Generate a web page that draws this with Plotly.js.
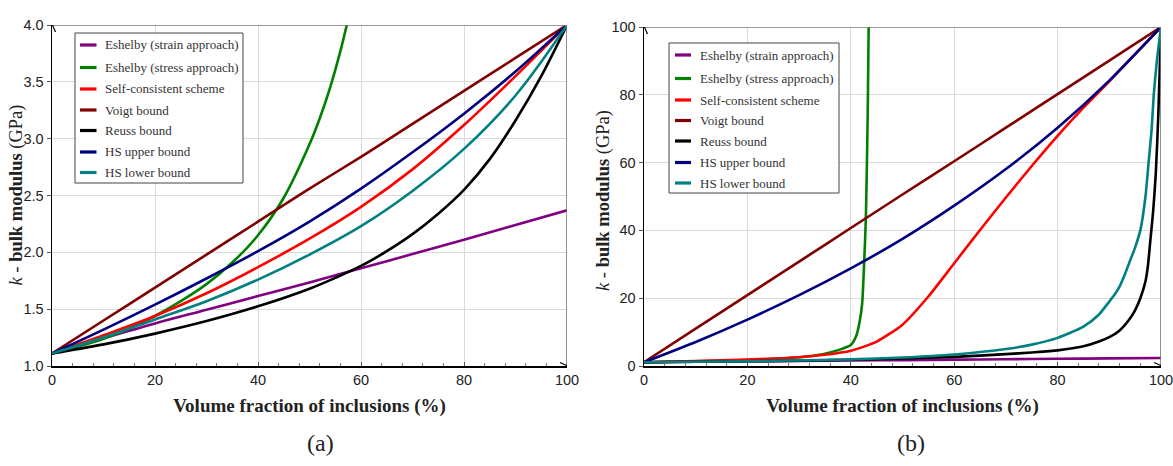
<!DOCTYPE html>
<html>
<head>
<meta charset="utf-8">
<script src="https://cdn.plot.ly/plotly-3.0.1.min.js"></script>
<style>html,body{margin:0;padding:0;background:#fff;}#chart{width:1173px;height:466px;}</style>
</head>
<body>
<div id="chart"></div>
<script>
// ---------- data ----------
const seriesNames = ["Eshelby (strain approach)", "Eshelby (stress approach)", "Self-consistent scheme",
  "Voigt bound", "Reuss bound", "HS upper bound", "HS lower bound"];
const seriesColors = ["#800080", "#008000", "#ff0000", "#800000", "#000000", "#000080", "#008080"];

// panel (a)
const xA = [0, 10, 20, 30, 40, 50, 60, 70, 80, 90, 100];
const strainA = [1.11, 1.245, 1.375, 1.495, 1.615, 1.735, 1.86, 1.985, 2.11, 2.24, 2.37];
const stressAx = [0, 5, 10, 15, 20, 25, 30, 35, 40, 45, 50, 52, 54, 56, 58];
const stressA = [1.11, 1.17, 1.24, 1.33, 1.44, 1.57, 1.72, 1.91, 2.15, 2.48, 2.95, 3.18, 3.45, 3.77, 4.15];
const scA = [1.11, 1.27, 1.44, 1.64, 1.87, 2.12, 2.40, 2.73, 3.12, 3.55, 4.00];
const voigtA = [1.11, 1.40, 1.69, 1.98, 2.27, 2.56, 2.84, 3.13, 3.42, 3.71, 4.00];
const reussAx = [0, 10, 20, 30, 40, 50, 55, 60, 65, 70, 75, 80, 85, 90, 95, 100];
const reussA = [1.11, 1.19, 1.285, 1.395, 1.525, 1.68, 1.775, 1.88, 2.01, 2.16, 2.34, 2.55, 2.82, 3.16, 3.55, 4.00];
const hsUpA = [1.11, 1.32, 1.54, 1.77, 2.01, 2.27, 2.56, 2.88, 3.22, 3.59, 4.00];
const hsLowA = [1.11, 1.25, 1.41, 1.57, 1.76, 1.98, 2.23, 2.54, 2.91, 3.38, 4.00];

// panel (b)
const xB = [0, 10, 20, 30, 40, 50, 60, 70, 80, 90, 100];
const strainB = [1.11, 1.25, 1.38, 1.50, 1.62, 1.74, 1.87, 2.00, 2.12, 2.25, 2.37];
const stressBx = [0, 10, 20, 25, 30, 33, 36, 38, 40, 41, 41.7, 42.2, 42.6, 42.9, 43.1, 43.3, 43.45, 43.6];
const stressB = [1.11, 1.35, 1.75, 2.1, 2.6, 3.1, 4.0, 4.9, 6.2, 8.7, 13, 18.5, 31, 43, 58, 78, 100, 120];
const scBx = [0, 10, 20, 25, 30, 35, 40, 45, 50, 55, 60, 65, 70, 75, 80, 85, 90, 95, 100];
const scB = [1.11, 1.45, 1.9, 2.2, 2.6, 3.3, 4.5, 7.2, 12.2, 20.5, 30.3, 40.1, 49.7, 59.0, 67.9, 76.2, 84.0, 92.0, 100];
const voigtB = [1.11, 11.0, 20.9, 30.8, 40.7, 50.6, 60.4, 70.3, 80.2, 90.1, 100];
const reussBx = [0, 20, 40, 50, 60, 70, 75, 80, 85, 88, 90, 92, 94, 95, 96, 97, 97.5, 98, 98.5, 99, 99.5, 100];
const reussB = [1.11, 1.38, 1.83, 2.2, 2.7, 3.5, 4.0, 4.6, 5.8, 7.2, 8.5, 10.5, 14, 16.5, 20, 25, 30, 38, 46, 57, 75, 100];
const hsUpB = [1.11, 7.1, 13.7, 20.9, 28.8, 37.5, 47.3, 58.1, 70.3, 84.2, 100];
const hsLowBx = [0, 10, 20, 30, 40, 50, 60, 70, 75, 80, 85, 88, 90, 91, 92, 93, 94, 95, 96, 97, 97.6, 98.2, 98.6, 99.2, 100];
const hsLowB = [1.11, 1.25, 1.42, 1.65, 1.95, 2.5, 3.4, 5.0, 6.3, 8.3, 11.6, 15.2, 19, 21, 23.5, 27, 31, 35, 40, 50, 60, 70, 80, 90, 100];

const xTicks = [0, 20, 40, 60, 80, 100];
const yTicksA = [1.0, 1.5, 2.0, 2.5, 3.0, 3.5, 4.0];
const yTicksB = [0, 20, 40, 60, 80, 100];
const xTitle = "Volume fraction of inclusions (%)";
const yTitle = "<i>k</i> - <b>bulk modulus</b> (GPa)";
const panelLabels = ["(a)", "(b)"];

// ---------- build ----------
const W = 1173, H = 466;
const fx = p => p / W, fy = p => 1 - p / H;
const SERIF = "Liberation Serif, Times New Roman, serif";
const NARROW = "Liberation Sans Narrow, Arial Narrow, Liberation Sans, Arial, sans-serif";

const dataA = [[xA, strainA], [stressAx, stressA], [xA, scA], [xA, voigtA], [reussAx, reussA], [xA, hsUpA], [xA, hsLowA]];
const dataB = [[xB, strainB], [stressBx, stressB], [scBx, scB], [xB, voigtB], [reussBx, reussB], [xB, hsUpB], [hsLowBx, hsLowB]];

const traces = [];
dataA.forEach((d, i) => traces.push({x: d[0], y: d[1], name: seriesNames[i], type: 'scatter', mode: 'lines',
  line: {color: seriesColors[i], width: 2.6, shape: 'spline', smoothing: 1}, xaxis: 'x', yaxis: 'y', showlegend: false}));
dataB.forEach((d, i) => traces.push({x: d[0], y: d[1], name: seriesNames[i], type: 'scatter', mode: 'lines',
  line: {color: seriesColors[i], width: 2.6, shape: 'spline', smoothing: 0.6}, xaxis: 'x2', yaxis: 'y2', showlegend: false}));

const tickFont = {family: NARROW, size: 14.5, color: '#222'};

function xAxis(domain, anchor) {
  return {domain: domain, anchor: anchor, range: [0, 100], tickvals: xTicks, showgrid: true, gridcolor: '#dadada', gridwidth: 1,
    zeroline: false, showline: true, linecolor: '#000', linewidth: 1.5, ticks: 'inside', ticklen: 4, tickcolor: '#555',
    minor: {dtick: 4, ticks: 'inside', ticklen: 3, tickcolor: '#777', showgrid: false},
    tickfont: tickFont, fixedrange: true, ticklabeloverflow: 'allow',
    title: {text: "<b>" + xTitle + "</b>", font: {family: SERIF, size: 19, color: '#222'}, standoff: 12}};
}
function yAxis(domain, anchor, range, ticks, fmt) {
  return {domain: domain, anchor: anchor, range: range, tickvals: ticks, tickformat: fmt, showgrid: true, gridcolor: '#dadada',
    zeroline: false, showline: true, linecolor: '#000', linewidth: 1.5, ticks: 'outside', ticklen: 4, tickcolor: '#555',
    tickfont: tickFont, fixedrange: true, ticklabeloverflow: 'allow'};
}

const shapes = [];
const annotations = [];
// frame (top/right) + arrows
[['x', 'y', 1, 4], ['x2', 'y2', 0, 100]].forEach(([xr, yr, y0, y1]) => {
  shapes.push({type: 'line', xref: xr, yref: yr, x0: 0, x1: 100, y0: y1, y1: y1, line: {color: '#777', width: 1.6}});
  shapes.push({type: 'line', xref: xr, yref: yr, x0: 100, x1: 100, y0: y0, y1: y1, line: {color: '#777', width: 1.6}});
  shapes.push({type: 'path', xref: xr, yref: yr, xsizemode: 'pixel', ysizemode: 'pixel', xanchor: 0, yanchor: y1,
    path: 'M-3.5,-7L0,1L3.5,-7', line: {color: '#000', width: 1.2}});
  shapes.push({type: 'path', xref: xr, yref: yr, xsizemode: 'pixel', ysizemode: 'pixel', xanchor: 100, yanchor: y0,
    path: 'M-7,-3.5L1,0L-7,3.5', line: {color: '#000', width: 1.2}});
});

// y-axis titles
[[16, 195.5], [604, 201]].forEach(([px, py]) => {
  annotations.push({xref: 'paper', yref: 'paper', x: fx(px), y: fy(py), text: yTitle, textangle: -90, showarrow: false,
    xanchor: 'center', yanchor: 'middle', font: {family: SERIF, size: 18.5, color: '#222'}});
});

// legends (boxes, samples, labels)
const legendSpecs = [
  {box: [75, 33, 243, 183], sx: [80, 96.5], tx: 103, ys: [45, 67.5, 89, 110, 130.5, 152, 172.5]},
  {box: [669, 43, 839, 193], sx: [675, 691], tx: 698, ys: [55, 78.5, 100, 120.5, 141, 162.5, 183]}
];
legendSpecs.forEach(L => {
  shapes.push({type: 'rect', xref: 'paper', yref: 'paper', x0: fx(L.box[0]), x1: fx(L.box[2]), y0: fy(L.box[3]), y1: fy(L.box[1]),
    line: {color: '#444', width: 1}, fillcolor: 'rgba(255,255,255,0.9)', layer: 'above'});
  seriesNames.forEach((n, i) => {
    shapes.push({type: 'line', xref: 'paper', yref: 'paper', x0: fx(L.sx[0]), x1: fx(L.sx[1]), y0: fy(L.ys[i]), y1: fy(L.ys[i]),
      line: {color: seriesColors[i], width: 3.2}, layer: 'above'});
    annotations.push({xref: 'paper', yref: 'paper', x: fx(L.tx), y: fy(L.ys[i]), xanchor: 'left', yanchor: 'middle',
      text: n, showarrow: false, font: {family: SERIF, size: 13, color: '#333'}});
  });
});

// panel labels
annotations.push({xref: 'paper', yref: 'paper', x: fx(320), y: fy(443), text: panelLabels[0], showarrow: false,
  xanchor: 'center', yanchor: 'middle', font: {family: SERIF, size: 24, color: '#222'}});
annotations.push({xref: 'paper', yref: 'paper', x: fx(911), y: fy(443), text: panelLabels[1], showarrow: false,
  xanchor: 'center', yanchor: 'middle', font: {family: SERIF, size: 24, color: '#222'}});

const layout = {
  width: W, height: H, margin: {l: 0, r: 0, t: 0, b: 0, pad: 0},
  paper_bgcolor: '#fff', plot_bgcolor: '#fff', showlegend: false,
  xaxis: xAxis([fx(52), fx(567)], 'y'),
  yaxis: yAxis([fy(366), fy(25)], 'x', [1, 4], yTicksA, '.1f'),
  xaxis2: xAxis([fx(644), fx(1161)], 'y2'),
  yaxis2: yAxis([fy(366), fy(27)], 'x2', [0, 100], yTicksB, 'd'),
  shapes: shapes, annotations: annotations
};

Plotly.newPlot('chart', traces, layout, {displayModeBar: false, staticPlot: true});
</script>
</body>
</html>
